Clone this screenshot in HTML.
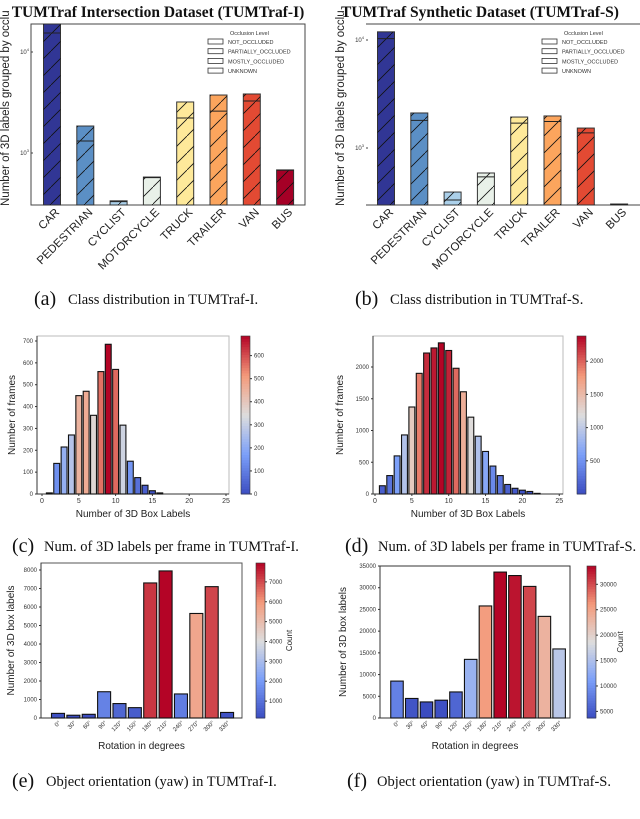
<!DOCTYPE html>
<html><head><meta charset="utf-8"><style>
html,body{margin:0;padding:0;background:#fff;}
svg{display:block;font-family:"Liberation Sans",sans-serif;}
.cap{font-family:"Liberation Serif",serif;font-size:14.5px;fill:#111;}
.capl{font-family:"Liberation Serif",serif;font-size:20px;fill:#111;}
.tk{font-size:6px;fill:#333;}
.al{font-size:10px;fill:#222;}
</style></head><body>
<svg id="fig" width="640" height="819" viewBox="0 0 640 819" xmlns="http://www.w3.org/2000/svg">
<defs>
<pattern id="hatch" patternUnits="userSpaceOnUse" width="17" height="17">
<path d="M-2,19 L19,-2" stroke="#111" stroke-width="0.8"/>
</pattern>
</defs>
<g id="ga"></g>
<g id="gb"></g>
<g id="gc"></g>
<g id="gd"></g>
<g id="ge"></g>
<g id="gf"></g>
<text class="capl" x="34" y="305">(a)</text>
<text class="cap" x="68" y="304">Class distribution in TUMTraf-I.</text>
<text class="capl" x="355" y="305">(b)</text>
<text class="cap" x="390" y="304">Class distribution in TUMTraf-S.</text>
<text class="capl" x="12" y="552">(c)</text>
<text class="cap" x="44" y="551">Num. of 3D labels per frame in TUMTraf-I.</text>
<text class="capl" x="345" y="552">(d)</text>
<text class="cap" x="378" y="551">Num. of 3D labels per frame in TUMTraf-S.</text>
<text class="capl" x="12" y="787">(e)</text>
<text class="cap" x="46" y="786">Object orientation (yaw) in TUMTraf-I.</text>
<text class="capl" x="347" y="787">(f)</text>
<text class="cap" x="377" y="786">Object orientation (yaw) in TUMTraf-S.</text>
</svg>
<script>
const classes = ["CAR","PEDESTRIAN","CYCLIST","MOTORCYCLE","TRUCK","TRAILER","VAN","BUS"];
const totalsI = [19000,1850,336,578,3200,3750,3840,680];
const notOccI = [15400,1315,330,570,2220,2600,3270,675];
const totalsS = [11900,2110,391,587,1935,1980,1530,303];
const notOccS = [10300,1800,330,540,1700,1760,1380,300];
const legendItems = ["NOT_OCCLUDED","PARTIALLY_OCCLUDED","MOSTLY_OCCLUDED","UNKNOWN"];
const frameBinsI = [1,2,3,4,5,6,7,8,9,10,11,12,13,14,15,16];
const frameCountsI = [5,140,215,270,450,470,360,560,685,570,315,150,75,40,15,5];
const frameBinsS = [1,2,3,4,5,6,7,8,9,10,11,12,13,14,15,16,17,18,19,20,21,22];
const frameCountsS = [130,290,600,930,1370,1900,2220,2300,2380,2260,1980,1610,1210,910,670,440,290,150,90,60,40,10];
const angles = ["0°","30°","60°","90°","120°","150°","180°","210°","240°","270°","300°","330°"];
const yawI = [250,150,200,1420,780,560,7300,7950,1300,5650,7100,300];
const yawS = [8500,4500,3700,4100,6000,13500,25800,33600,32800,30300,23400,15900];
const cbTicksC = [0,100,200,300,400,500,600];
const cbTicksD = [500,1000,1500,2000];
const cbTicksE = [1000,2000,3000,4000,5000,6000,7000];
const cbTicksF = [5000,10000,15000,20000,25000,30000];
const yTicksC = [0,100,200,300,400,500,600,700];
const yTicksD = [0,500,1000,1500,2000];
const yTicksE = [0,1000,2000,3000,4000,5000,6000,7000,8000];
const yTicksF = [0,5000,10000,15000,20000,25000,30000,35000];
const xTicksHist = [0,5,10,15,20,25];

const classColors = ["#313695","#5b8fc5","#abd0ea","#e9f1e9","#fee99a","#fca55d","#e34a33","#a50026"];
const NS="http://www.w3.org/2000/svg";
function mk(parent,tag,attrs,txt){const e=document.createElementNS(NS,tag);for(const k in attrs)e.setAttribute(k,attrs[k]);if(txt!==undefined)e.textContent=txt;parent.appendChild(e);return e;}
function cw(t){t=Math.max(0,Math.min(1,t));const s=[[0,[59,76,192]],[0.25,[123,159,249]],[0.5,[221,221,221]],[0.75,[244,154,123]],[1,[180,4,38]]];
 for(let i=0;i<s.length-1;i++){if(t<=s[i+1][0]){const f=(t-s[i][0])/(s[i+1][0]-s[i][0]);const c=s[i][1].map((v,j)=>Math.round(v+(s[i+1][1][j]-v)*f));return `rgb(${c[0]},${c[1]},${c[2]})`;}}return "rgb(180,4,38)";}

function classChart(g,o){
 const y=v=>Math.max(o.top,Math.min(o.bot,o.y3-o.dec*(Math.log10(v)-3)));
 const cx=i=>o.x0+o.step*i;
 const t=mk(g,"text",{x:o.tx,y:17,"text-anchor":"middle","font-family":"Liberation Serif,serif","font-weight":"bold","font-size":"15.5px",fill:"#111"},o.title);
 
 
 if(o.frame){const f=mk(g,"rect",{x:o.l,y:o.top,width:o.r-o.l,height:o.bot-o.top,fill:"none",stroke:"#444","stroke-width":1});}
 else{mk(g,"line",{x1:o.l,x2:o.r,y1:o.top,y2:o.top,stroke:"#444"});mk(g,"line",{x1:o.l,x2:o.r,y1:o.bot,y2:o.bot,stroke:"#444"});}
 o.totals.forEach((v,i)=>{
  const x=cx(i)-8.5,yt=y(v),yn=y(o.notOcc[i]);
  const b=mk(g,"rect",{x:x,y:yt,width:17,height:o.bot-yt,fill:classColors[i],stroke:"#333","stroke-width":1});
  
  
  mk(g,"rect",{x:x,y:yt,width:17,height:o.bot-yt,fill:"url(#hatch)"});
  mk(g,"line",{x1:x,x2:x+17,y1:yn,y2:yn,stroke:"#222","stroke-width":1});
  const lb=mk(g,"text",{transform:`translate(${cx(i)+8},${o.bot+8}) rotate(-45)`,"text-anchor":"end","font-size":"11.5px",fill:"#222"},classes[i]);
  
  
 });
 [3,4].forEach(p=>{const yy=o.y3-o.dec*(p-3);if(yy<o.top||yy>o.bot)return;
  const tl=mk(g,"text",{x:o.l-2,y:yy+2,"text-anchor":"end",class:"tk"},"10");mk(tl,"tspan",{dy:-3,"font-size":"4px"},String(p));
  
  mk(g,"line",{x1:o.l,x2:o.l+2,y1:yy,y2:yy,stroke:"#444"});});
 const yl=mk(g,"text",{transform:`translate(${o.l-22},${o.bot+1}) rotate(-90)`,"font-size":"11.5px",fill:"#222"},"Number of 3D labels grouped by occlu");
 
 const lg=mk(g,"g",{});
 mk(lg,"text",{x:o.lx+22,y:35,"font-size":"5.5px",fill:"#333"},"Occlusion Level");
 legendItems.forEach((s,i)=>{const yy=39+i*9.7;
  mk(lg,"rect",{x:o.lx,y:yy,width:15,height:5,fill:"#fff",stroke:"#333","stroke-width":0.8});
  const e=mk(lg,"text",{x:o.lx+20,y:yy+5,"font-size":"5.5px",fill:"#333"},s);
  });
}
classChart(document.getElementById("ga"),{title:"TUMTraf Intersection Dataset (TUMTraf-I)",tx:158,l:31,r:305,top:24,bot:205,y3:153,dec:101,x0:52,step:33.3,totals:totalsI,notOcc:notOccI,frame:true,lx:208});
classChart(document.getElementById("gb"),{title:"TUMTraf Synthetic Dataset (TUMTraf-S)",tx:480,l:366,r:640,top:24,bot:205,y3:148,dec:108,x0:386,step:33.3,totals:totalsS,notOcc:notOccS,frame:false,lx:542});

function valChart(g,o){
 const ys=v=>o.y0-(v)*o.sy;
 const cmin=o.cmin,cmax=Math.max(...o.vals);
 const fr=mk(g,"rect",{x:o.l,y:o.top,width:o.r-o.l,height:o.y0-o.top,fill:"none",stroke:o.frameCol,"stroke-width":1});
 
 mk(g,"line",{x1:o.l,x2:o.l,y1:o.top,y2:o.y0,stroke:"#333"});
 mk(g,"line",{x1:o.l,x2:o.r,y1:o.y0,y2:o.y0,stroke:"#333"});
 o.vals.forEach((v,i)=>{
  const c=o.xc(i),w=o.bw;
  const b=mk(g,"rect",{x:c-w/2,y:ys(v),width:w,height:v*o.sy,fill:cw((v-cmin)/(cmax-cmin)),stroke:"#111","stroke-width":1.1});
  
 });
 o.yt.forEach(v=>{const t=mk(g,"text",{x:o.l-4,y:ys(v)+2,"text-anchor":"end",class:"tk"},String(v));
  
  mk(g,"line",{x1:o.l-2,x2:o.l,y1:ys(v),y2:ys(v),stroke:"#333"});});
 if(o.xt){o.xt.forEach(v=>{const x=o.xs(v);const t=mk(g,"text",{x:x,y:o.y0+9,"text-anchor":"middle","font-size":"7px",fill:"#333"},String(v));
  
  mk(g,"line",{x1:x,x2:x,y1:o.y0,y2:o.y0+2,stroke:"#333"});});}
 if(o.cats){o.cats.forEach((s,i)=>{const x=o.xc(i);const t=mk(g,"text",{transform:`translate(${x+3},${o.y0+5}) rotate(-45)`,"text-anchor":"end","font-size":"6px",fill:"#333"},s);
  });}
 const xl=mk(g,"text",{x:(o.l+o.r)/2,y:o.xly,"text-anchor":"middle",class:"al"},o.xlab);
 
 const yl=mk(g,"text",{transform:`translate(${o.yx},${(o.top+o.y0)/2}) rotate(-90)`,"text-anchor":"middle",class:"al"},o.ylab);
 
 const cb=mk(g,"g",{});
 const n=60,h=(o.y0-o.top)/n;
 for(let k=0;k<n;k++)mk(cb,"rect",{x:o.cbx,y:o.y0-(k+1)*h,width:9,height:h+0.5,fill:cw((k+0.5)/n)});
 mk(cb,"rect",{x:o.cbx,y:o.top,width:9,height:o.y0-o.top,fill:"none",stroke:"#333","stroke-width":0.6});
 o.cbt.forEach(v=>{const yy=o.y0-(v-cmin)/(cmax-cmin)*(o.y0-o.top);
  mk(cb,"line",{x1:o.cbx+9,x2:o.cbx+11,y1:yy,y2:yy,stroke:"#333"});
  const t=mk(cb,"text",{x:o.cbx+13,y:yy+2,class:"tk"},String(v));
  });
 if(o.count){const t=mk(cb,"text",{transform:`translate(${o.cbx+36},${(o.top+o.y0)/2}) rotate(-90)`,"text-anchor":"middle","font-size":"8px",fill:"#222"},"Count");
  }
}
const hx=(x0,s)=>v=>x0+v*s;
const xsC=hx(42,7.36);
valChart(document.getElementById("gc"),{l:37,r:229,top:336,y0:494,sy:153/700,vals:frameCountsI,cmin:0,xc:i=>xsC(frameBinsI[i]),bw:5.9,xs:xsC,xt:xTicksHist,yt:yTicksC,cbx:241,cbt:cbTicksC,xlab:"Number of 3D Box Labels",xly:517,ylab:"Number of frames",yx:15,frameCol:"#bbb"});
const xsD=hx(375,7.37);
valChart(document.getElementById("gd"),{l:373,r:563,top:336,y0:494,sy:127/2000,vals:frameCountsS,cmin:0,xc:i=>xsD(frameBinsS[i]),bw:5.9,xs:xsD,xt:xTicksHist,yt:yTicksD,cbx:577,cbt:cbTicksD,xlab:"Number of 3D Box Labels",xly:517,ylab:"Number of frames",yx:343,frameCol:"#bbb"});
valChart(document.getElementById("ge"),{l:41,r:242,top:563,y0:718,sy:148/8000,vals:yawI,cmin:150,xc:i=>58+15.37*i,bw:13,cats:angles,yt:yTicksE,cbx:256,cbt:cbTicksE,xlab:"Rotation in degrees",xly:749,ylab:"Number of 3D box labels",yx:14,frameCol:"#555",count:true});
valChart(document.getElementById("gf"),{l:380,r:570,top:566,y0:718,sy:152/35000,vals:yawS,cmin:3700,xc:i=>397+14.74*i,bw:12.5,cats:angles,yt:yTicksF,cbx:587,cbt:cbTicksF,xlab:"Rotation in degrees",xly:749,ylab:"Number of 3D box labels",yx:346,frameCol:"#333",count:true});
</script>
</body></html>
